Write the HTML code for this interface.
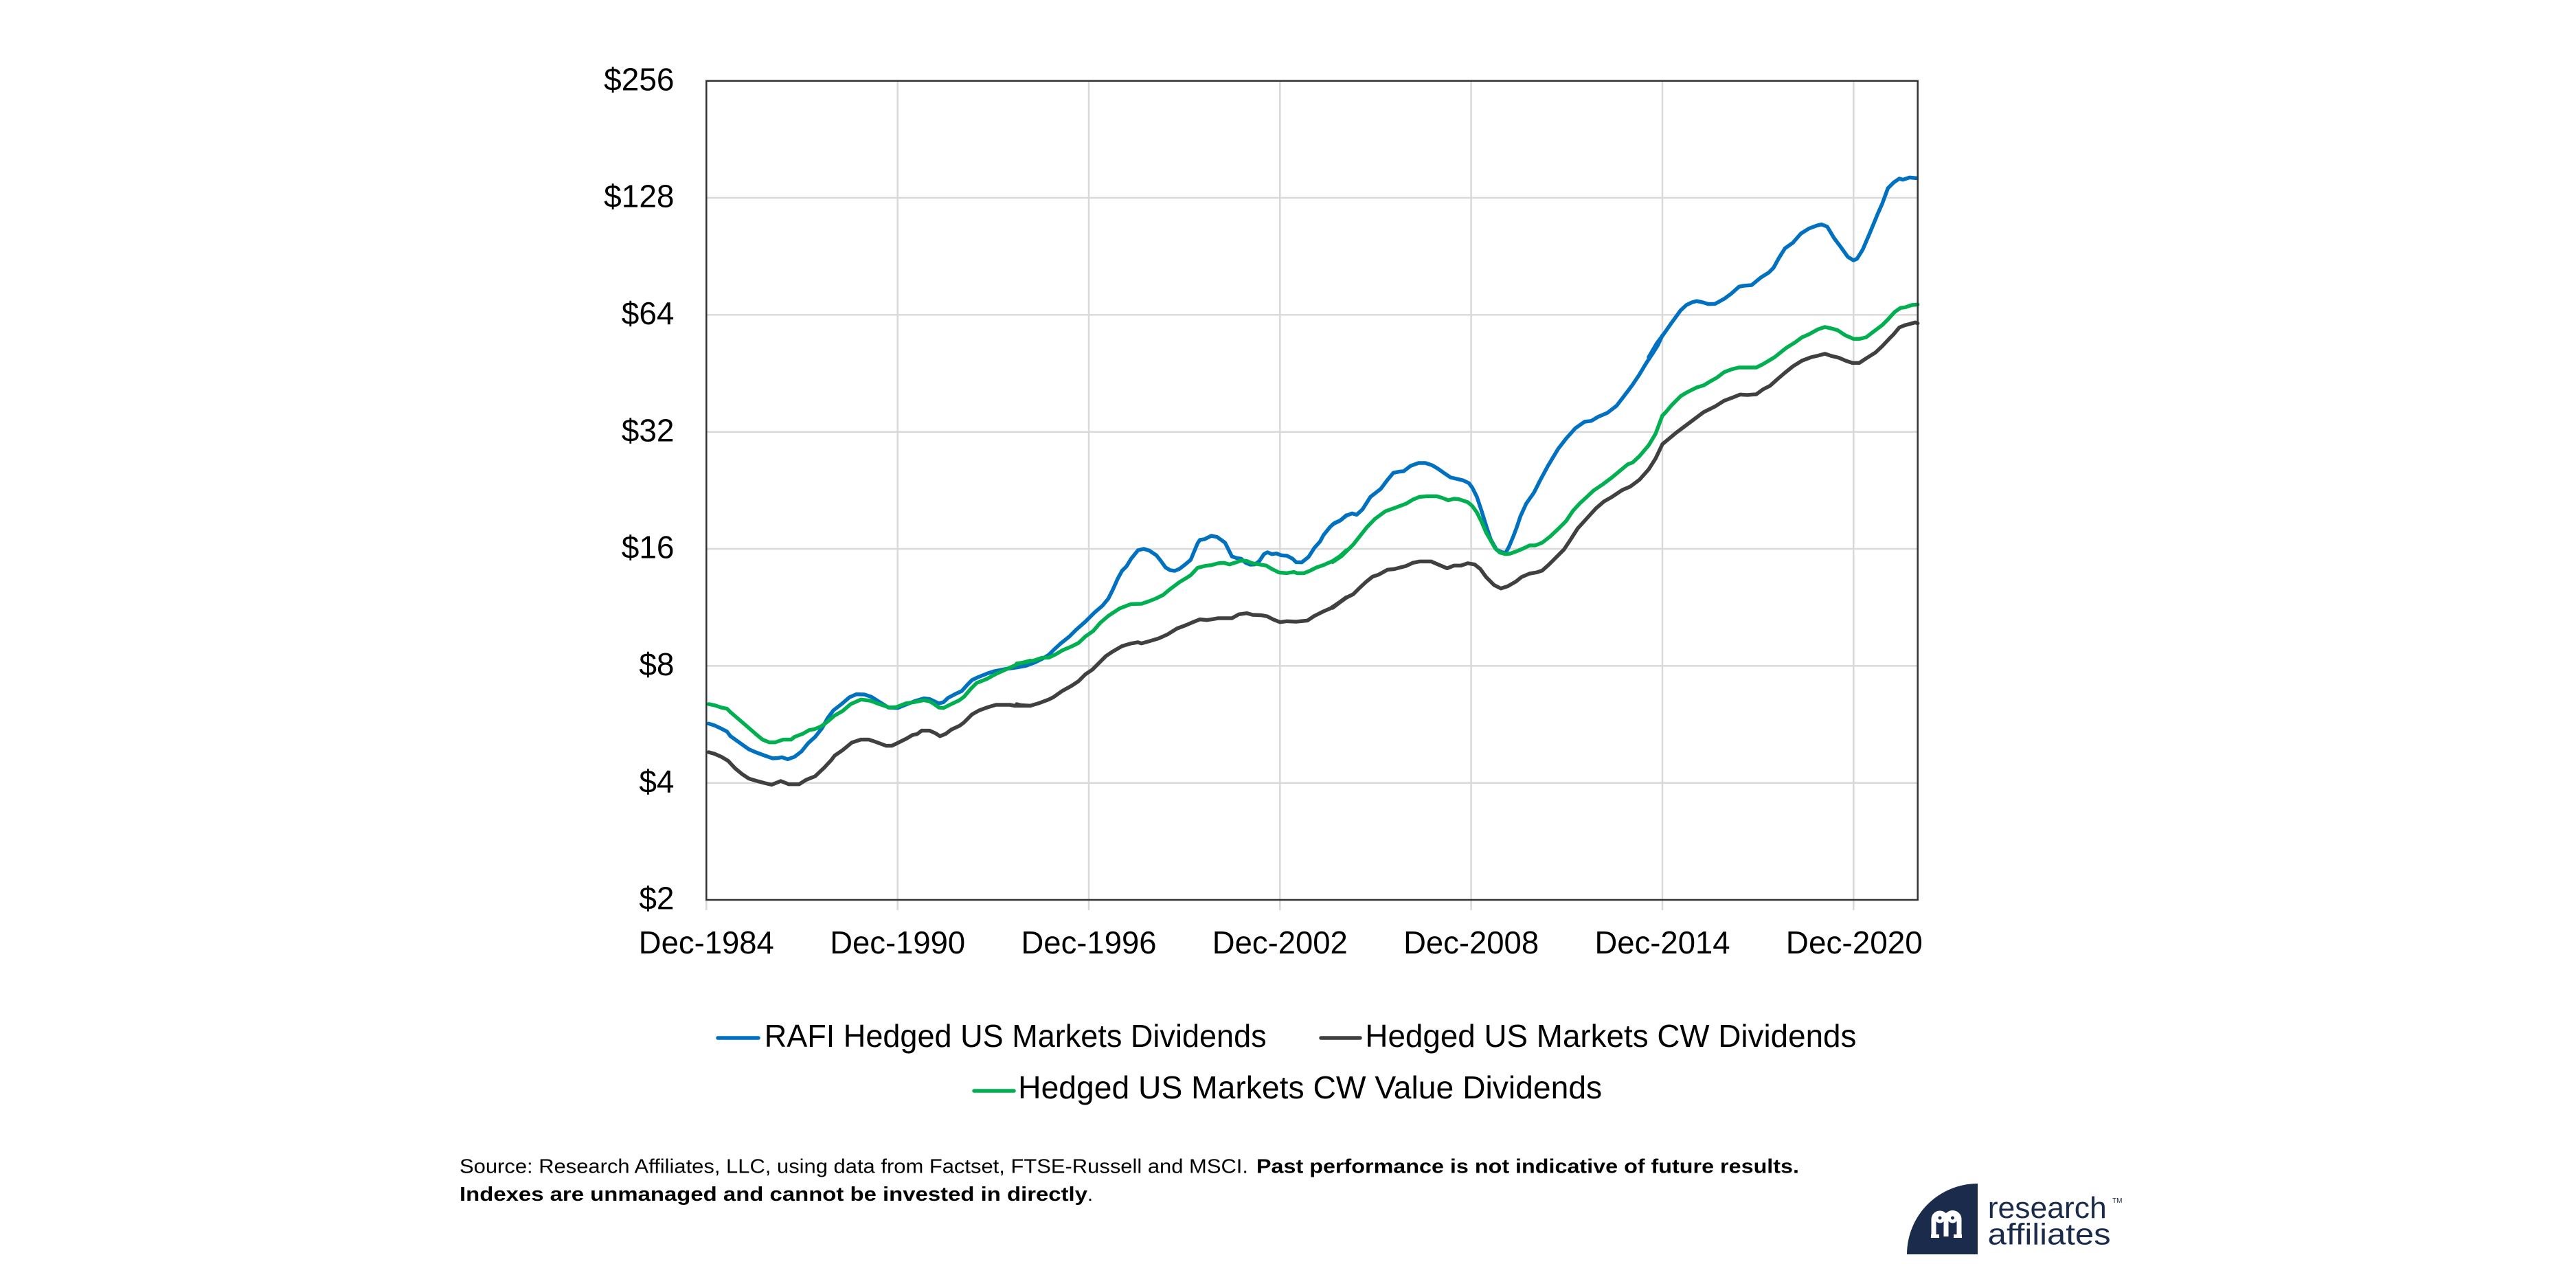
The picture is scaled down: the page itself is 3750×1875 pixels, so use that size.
<!DOCTYPE html>
<html>
<head>
<meta charset="utf-8">
<style>
  html, body { margin: 0; padding: 0; background: #ffffff; }
  body { width: 3750px; height: 1875px; overflow: hidden; }
  svg { display: block; }
  text { font-family: "Liberation Sans", "DejaVu Sans", sans-serif; }
</style>
</head>
<body>
<svg width="3750" height="1875" viewBox="0 0 3750 1875" xmlns="http://www.w3.org/2000/svg">
  <rect x="0" y="0" width="3750" height="1875" fill="#ffffff"/>

  <!-- horizontal gridlines -->
  <g stroke="#d9d9d9" stroke-width="2.5">
    <line x1="1028" y1="288.0" x2="2792" y2="288.0"/>
    <line x1="1028" y1="458.4" x2="2792" y2="458.4"/>
    <line x1="1028" y1="628.7" x2="2792" y2="628.7"/>
    <line x1="1028" y1="799.0" x2="2792" y2="799.0"/>
    <line x1="1028" y1="969.4" x2="2792" y2="969.4"/>
    <line x1="1028" y1="1139.7" x2="2792" y2="1139.7"/>
  </g>
  <!-- vertical gridlines + ticks -->
  <g stroke="#d9d9d9" stroke-width="2.5">
    <line x1="1028.3" y1="1310" x2="1028.3" y2="1325"/>
    <line x1="1306.7" y1="118" x2="1306.7" y2="1325"/>
    <line x1="1585.0" y1="118" x2="1585.0" y2="1325"/>
    <line x1="1863.3" y1="118" x2="1863.3" y2="1325"/>
    <line x1="2141.6" y1="118" x2="2141.6" y2="1325"/>
    <line x1="2420.0" y1="118" x2="2420.0" y2="1325"/>
    <line x1="2698.3" y1="118" x2="2698.3" y2="1325"/>
  </g>

  <!-- series: blue -->
  <g fill="none" stroke="#0070C0" stroke-width="16.5" stroke-linejoin="round" stroke-linecap="round">
    <polyline transform="translate(1020,880) scale(0.333333)" points="35,520 60,528 90,542 115,555 130,575 165,600 210,632 240,645 280,660 315,672 340,670 355,667 380,676 410,665 440,642 470,605 500,578 530,540 555,495 580,462 615,435 650,405 680,392 715,393 745,403 780,425 820,450 860,452 895,438 935,422 975,410 1000,413 1040,432 1060,427 1080,408 1110,392 1140,378 1165,350 1185,330 1210,318 1250,302 1280,292 1330,282 1380,275 1440,258"/>
    <polyline transform="translate(1480,720) scale(0.333333)" points="0,755 40,748 80,733 110,718 140,700 160,680 190,652 230,620 260,590 300,555 340,515 375,485 400,455 420,415 440,370 460,333 480,313 500,280 530,243 555,237 580,245 610,265 630,290 650,318 670,330 690,333 710,325 730,310 760,285 790,213 800,198 820,195 850,180 875,185 910,210 925,240 940,270 960,277 980,280 1000,298 1020,306 1040,305 1060,290 1080,260 1095,252 1115,260 1135,257 1155,265 1180,267 1205,280 1220,295 1245,296 1275,272 1300,233 1325,205 1340,177 1370,140 1390,123 1415,112 1440,90"/>
    <polyline transform="translate(1940,440) scale(0.333333)" points="0,970 30,955 60,932 85,922 105,928 130,905 165,850 210,815 240,775 265,745 290,740 310,738 340,715 375,702 405,702 435,712 460,727 490,748 515,765 545,772 570,778 595,790 610,810 630,850 650,910 670,975 690,1035 715,1080 740,1092 755,1095 770,1068 790,1020 805,980 820,935 845,880 880,830 905,780 940,715 985,640 1020,595 1060,550 1100,522 1130,518 1160,500 1200,483 1240,452 1280,400 1310,360 1340,315 1370,265 1400,220 1420,188 1440,145"/>
    <polyline transform="translate(2400,200) scale(0.333333)" points="0,960 35,900 65,860 100,810 140,755 165,732 190,720 210,715 235,720 260,728 290,727 330,705 360,683 395,652 415,648 450,645 490,612 525,590 545,570 570,525 595,485 630,460 665,420 700,398 735,385 755,380 780,390 810,440 840,480 870,522 895,537 910,530 935,490 965,420 1000,335 1020,290 1045,222 1070,197 1095,180 1110,185 1140,175 1170,178"/>
  </g>

  <!-- series: dark -->
  <g fill="none" stroke="#404040" stroke-width="16.5" stroke-linejoin="round" stroke-linecap="round">
    <polyline transform="translate(1020,880) scale(0.333333)" points="35,645 60,652 90,665 120,683 150,715 180,740 210,760 250,772 280,780 310,787 350,771 385,785 430,785 460,766 500,750 540,712 570,680 585,660 620,636 660,603 700,590 735,590 770,602 810,617 835,617 860,605 900,585 925,570 945,566 965,551 1000,551 1025,562 1045,575 1070,565 1095,546 1130,530 1150,515 1185,480 1215,463 1250,450 1290,438 1350,438 1370,442 1400,442 1440,442"/>
    <polyline transform="translate(1480,720) scale(0.333333)" points="0,915 20,920 60,922 100,910 140,895 160,885 200,857 240,835 270,815 300,785 330,765 360,735 390,705 420,685 460,662 500,650 530,645 545,650 580,640 620,628 660,610 700,585 740,570 770,557 800,545 830,548 850,545 880,540 940,540 970,523 1005,518 1030,525 1070,527 1095,532 1120,545 1150,557 1180,553 1220,555 1270,550 1300,530 1340,510 1370,497 1410,470 1440,448"/>
    <polyline transform="translate(1940,440) scale(0.333333)" points="0,1335 30,1312 60,1290 90,1275 115,1250 145,1222 175,1198 200,1190 240,1168 270,1165 300,1157 320,1152 350,1138 380,1132 430,1132 460,1145 500,1162 530,1150 560,1150 590,1140 620,1145 645,1165 670,1200 705,1235 735,1250 765,1240 800,1220 825,1200 860,1185 890,1180 915,1172 945,1145 975,1115 1010,1080 1040,1035 1070,988 1100,955 1130,922 1150,900 1185,870 1220,850 1265,820 1300,805 1340,775 1380,730 1410,683 1440,620"/>
    <polyline transform="translate(2400,200) scale(0.333333)" points="60,1340 120,1290 180,1245 240,1200 290,1175 330,1150 370,1135 400,1123 430,1125 470,1122 500,1100 530,1085 560,1058 595,1028 630,1000 670,975 710,960 740,953 770,945 800,955 830,962 860,975 890,985 920,985 950,965 990,940 1020,912 1050,880 1070,860 1095,830 1120,820 1140,815 1165,808 1175,812"/>
  </g>

  <!-- series: green -->
  <g fill="none" stroke="#00B050" stroke-width="16.5" stroke-linejoin="round" stroke-linecap="round">
    <polyline transform="translate(1020,880) scale(0.333333)" points="35,435 60,440 90,450 115,455 130,470 165,500 200,530 240,565 270,590 300,602 325,602 360,590 395,590 410,578 445,565 475,548 495,545 525,533 550,515 585,485 620,465 655,435 700,415 740,420 780,435 825,450 855,448 895,432 930,427 975,418 1000,423 1020,435 1040,450 1060,452 1090,437 1130,418 1150,403 1180,368 1205,343 1250,325 1290,303 1330,285 1390,258 1440,245"/>
    <polyline transform="translate(1480,720) scale(0.333333)" points="0,738 40,732 80,723 110,713 140,712 170,698 200,680 240,663 270,648 300,620 335,595 365,560 400,530 450,497 500,478 545,477 580,465 610,453 640,438 670,413 710,383 740,365 760,352 790,320 820,312 850,308 880,300 905,298 930,305 960,295 980,288 1005,290 1030,300 1060,305 1090,310 1115,325 1145,340 1180,343 1210,338 1225,343 1255,343 1280,333 1310,318 1340,308 1380,290 1410,270 1440,243"/>
    <polyline transform="translate(1940,440) scale(0.333333)" points="0,1135 40,1108 90,1058 120,1020 150,982 185,946 230,913 280,895 320,880 350,862 380,850 410,847 455,847 480,855 505,865 530,858 550,860 575,868 590,873 610,890 630,918 650,958 670,1005 690,1040 710,1075 730,1093 755,1100 775,1098 810,1085 840,1072 860,1062 885,1062 915,1050 950,1023 990,985 1020,955 1050,910 1080,878 1110,850 1140,822 1180,795 1220,765 1250,740 1290,707 1310,700 1340,672 1380,625 1410,575 1440,495"/>
    <polyline transform="translate(2400,200) scale(0.333333)" points="60,1215 75,1200 100,1170 140,1130 170,1112 210,1092 240,1083 270,1065 300,1048 330,1025 365,1012 395,1005 470,1005 500,990 550,960 600,920 640,895 670,873 700,860 740,838 770,828 800,835 825,842 860,865 895,880 920,880 950,873 980,850 1020,820 1045,795 1075,762 1100,745 1120,742 1150,732 1175,730"/>
  </g>

  <!-- plot frame -->
  <rect x="1028.3" y="117.7" width="1763.4" height="1192.3" fill="none" stroke="#333333" stroke-width="2.5"/>

  <!-- y-axis labels -->
  <g font-size="46" fill="#000000" text-anchor="end">
    <text x="981.5" y="131.5">$256</text>
    <text x="981.5" y="301.5">$128</text>
    <text x="981.5" y="472">$64</text>
    <text x="981.5" y="642.3">$32</text>
    <text x="981.5" y="812.6">$16</text>
    <text x="981.5" y="983">$8</text>
    <text x="981.5" y="1153.3">$4</text>
    <text x="981.5" y="1323.5">$2</text>
  </g>

  <!-- x-axis labels -->
  <g font-size="46" fill="#000000">
    <text x="929.8" y="1388" textLength="197" lengthAdjust="spacingAndGlyphs">Dec-1984</text>
    <text x="1208.2" y="1388" textLength="197" lengthAdjust="spacingAndGlyphs">Dec-1990</text>
    <text x="1486.5" y="1388" textLength="197" lengthAdjust="spacingAndGlyphs">Dec-1996</text>
    <text x="1764.8" y="1388" textLength="197" lengthAdjust="spacingAndGlyphs">Dec-2002</text>
    <text x="2043.1" y="1388" textLength="197" lengthAdjust="spacingAndGlyphs">Dec-2008</text>
    <text x="2321.5" y="1388" textLength="197" lengthAdjust="spacingAndGlyphs">Dec-2014</text>
    <text x="2599.8" y="1388" textLength="199" lengthAdjust="spacingAndGlyphs">Dec-2020</text>
  </g>

  <!-- legend -->
  <g stroke-width="5.5" stroke-linecap="round">
    <line x1="1045" y1="1511" x2="1104" y2="1511" stroke="#0070C0"/>
    <line x1="1923" y1="1511" x2="1980" y2="1511" stroke="#404040"/>
    <line x1="1418" y1="1588" x2="1476" y2="1588" stroke="#00B050"/>
  </g>
  <g font-size="46" fill="#000000">
    <text x="1112.7" y="1524" textLength="731" lengthAdjust="spacingAndGlyphs">RAFI Hedged US Markets Dividends</text>
    <text x="1987.4" y="1524" textLength="715" lengthAdjust="spacingAndGlyphs">Hedged US Markets CW Dividends</text>
    <text x="1482.2" y="1599" textLength="850" lengthAdjust="spacingAndGlyphs">Hedged US Markets CW Value Dividends</text>
  </g>

  <!-- footer -->
  <g font-size="29" fill="#000000">
    <text x="669" y="1707.7" textLength="1148" lengthAdjust="spacingAndGlyphs">Source: Research Affiliates, LLC, using data from Factset, FTSE-Russell and MSCI.</text>
    <text x="1829" y="1707.7" font-weight="bold" textLength="790" lengthAdjust="spacingAndGlyphs">Past performance is not indicative of future results.</text>
    <text x="669" y="1748" font-weight="bold" textLength="914" lengthAdjust="spacingAndGlyphs">Indexes are unmanaged and cannot be invested in directly</text>
    <text x="1583" y="1748">.</text>
  </g>

  <!-- logo -->
  <g>
    <path d="M2879,1723 A103,103 0 0 0 2776,1826 L2879,1826 Z" fill="#1a2b4c"/>
    <g fill="none" stroke="#ffffff" stroke-width="7" stroke-linecap="butt">
      <path d="M2815,1800 L2815,1775 A9,9 0 0 1 2833,1775 L2833,1800"/>
      <path d="M2833,1775 A9.5,9.5 0 0 1 2852,1775 L2852,1800"/>
      <circle cx="2824" cy="1773" r="5" stroke-width="5"/>
      <circle cx="2842.5" cy="1773" r="5" stroke-width="5"/>
    </g>
    <rect x="2811" y="1797" width="12" height="5" fill="#ffffff"/>
    <rect x="2844" y="1797" width="12" height="5" fill="#ffffff"/>
    <text x="2893.7" y="1773" font-size="44" fill="#1a2b4c" textLength="173" lengthAdjust="spacingAndGlyphs">research</text>
    <text x="2893.7" y="1811.7" font-size="44" fill="#1a2b4c" textLength="179" lengthAdjust="spacingAndGlyphs">affiliates</text>
    <text x="3075" y="1751" font-size="10" fill="#1a2b4c">TM</text>
  </g>
</svg>
</body>
</html>
